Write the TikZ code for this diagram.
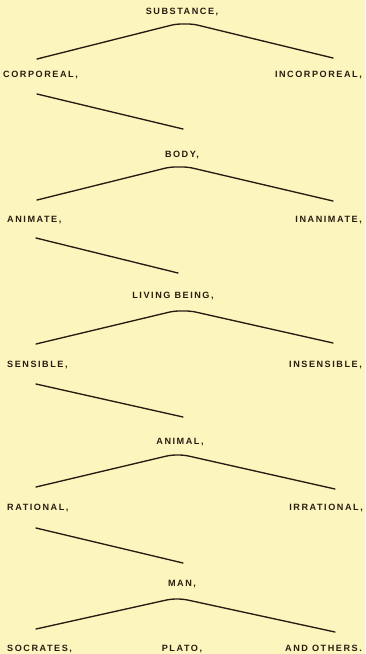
\documentclass[tikz,border=0pt]{standalone}
\usepackage{fontspec}
\newfontfamily\lab[LetterSpace=17]{Liberation Sans}
\definecolor{paper}{RGB}{252,246,190}
\definecolor{ink}{RGB}{40,28,18}
\begin{document}
\begin{tikzpicture}[x=1pt,y=-1pt,
  term/.style={inner sep=0pt,text height=6pt,text depth=0pt,text=ink,
    font=\lab\bfseries\fontsize{9.1}{10}\selectfont},
  branch/.style={draw=ink,line width=1.35pt,rounded corners=5pt,line cap=round},
  stem/.style={draw=ink,line width=1.35pt,line cap=round}]
\fill[paper] (0,0) rectangle (365,654);
\useasboundingbox (0,0) rectangle (365,654);
% level 1
\node[term] (substance) at (182,11) {SUBSTANCE,};
\node[term,anchor=west] (corporeal) at (3,74) {CORPOREAL,};
\node[term,anchor=east] (incorporeal) at (362,74) {INCORPOREAL,};
\coordinate (l1) at (37,59); \coordinate (p1a) at (176,24); \coordinate (p1b) at (193,24); \coordinate (r1) at (333,58);
\draw[branch] (l1) -- (p1a) -- (p1b) -- (r1);
\coordinate (d1a) at (37,94); \coordinate (d1b) at (183,129);
\draw[stem] (d1a) -- (d1b);
% level 2
\node[term] (body) at (182,154) {BODY,};
\node[term,anchor=west] (animate) at (7,219) {ANIMATE,};
\node[term,anchor=east] (inanimate) at (362,219) {INANIMATE,};
\coordinate (l2) at (37,200); \coordinate (p2a) at (170,167); \coordinate (p2b) at (188,167); \coordinate (r2) at (333,201);
\draw[branch] (l2) -- (p2a) -- (p2b) -- (r2);
\coordinate (d2a) at (36,238); \coordinate (d2b) at (178,273);
\draw[stem] (d2a) -- (d2b);
% level 3
\node[term] (living) at (173,295) {LIVING BEING,};
\node[term,anchor=west] (sensible) at (7,364) {SENSIBLE,};
\node[term,anchor=east] (insensible) at (362,364) {INSENSIBLE,};
\coordinate (l3) at (36,344); \coordinate (p3a) at (174,311); \coordinate (p3b) at (191,311); \coordinate (r3) at (333,343);
\draw[branch] (l3) -- (p3a) -- (p3b) -- (r3);
\coordinate (d3a) at (36,384); \coordinate (d3b) at (183,417);
\draw[stem] (d3a) -- (d3b);
% level 4
\node[term] (animal) at (180,441) {ANIMAL,};
\node[term,anchor=west] (rational) at (7,507) {RATIONAL,};
\node[term,anchor=east] (irrational) at (363,507) {IRRATIONAL,};
\coordinate (l4) at (36,487); \coordinate (p4a) at (171,455); \coordinate (p4b) at (184,455); \coordinate (r4) at (335,489);
\draw[branch] (l4) -- (p4a) -- (p4b) -- (r4);
\coordinate (d4a) at (36,528); \coordinate (d4b) at (183,563);
\draw[stem] (d4a) -- (d4b);
% level 5
\node[term] (man) at (182,583) {MAN,};
\node[term,anchor=west] (socrates) at (7,648) {SOCRATES,};
\node[term] (plato) at (182,648) {PLATO,};
\node[term,anchor=east] (others) at (362,648) {AND OTHERS.};
\coordinate (l5) at (36,629); \coordinate (p5a) at (171,599); \coordinate (p5b) at (183,599); \coordinate (r5) at (335,632);
\draw[branch] (l5) -- (p5a) -- (p5b) -- (r5);
\end{tikzpicture}
\end{document}
